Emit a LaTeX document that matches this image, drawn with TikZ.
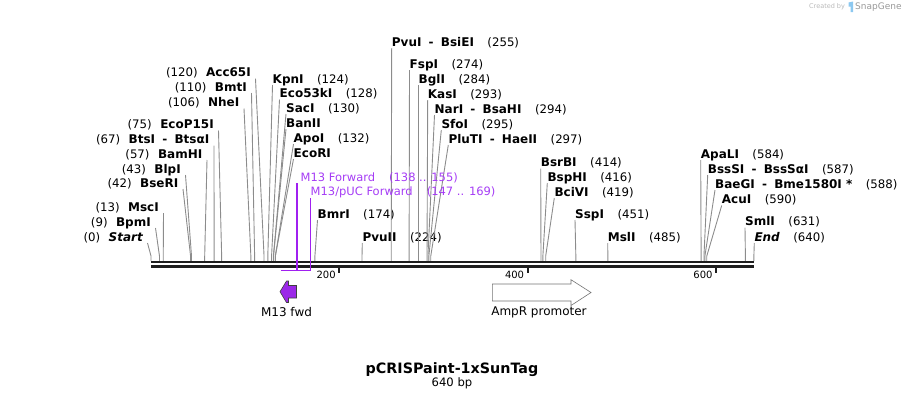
\documentclass[tikz,border=0pt]{standalone}
\usepackage{fontspec}
\setmainfont{DejaVu Sans}
\definecolor{linegray}{RGB}{140,140,140}
\definecolor{barc}{RGB}{30,30,30}
\definecolor{prim}{RGB}{160,32,240}
\definecolor{primtxt}{RGB}{165,60,245}
\definecolor{featfill}{RGB}{155,40,232}
\definecolor{wmgray}{RGB}{185,185,185}
\definecolor{wmblue}{RGB}{140,200,240}
\newcommand\EnzR[5]{%
  \node[elbl,anchor=base west] (#1) at (#3,{#4+4}) {#5};
  \coordinate (#1s) at ({151+0.942*#2},261);
  \draw[enzline] (#1s) -- ++(0,-5) -- ([yshift=-2pt]#1.base west);
}
\newcommand\EnzL[5]{%
  \node[elbl,anchor=base east] (#1) at (#3,{#4+4}) {#5};
  \coordinate (#1s) at ({151+0.942*#2},261);
  \draw[enzline] (#1s) -- ++(0,-5) -- ([xshift=4.5pt,yshift=-2pt]#1.base east);
}
\newcommand\EN[1]{{\fontsize{12}{13}\selectfont\bfseries #1}}
\newcommand\RS[1]{\EN{#1}\hspace{13.5pt}}
\newcommand\LS[1]{\hspace{8.5pt}\EN{#1}}
\newcommand\dsh{\hspace{7.2pt}-\hspace{7.2pt}}
\begin{document}
\begin{tikzpicture}[x=1pt,y=-1pt,
  elbl/.style={inner sep=0pt,font=\fontsize{11.75}{13}\selectfont},
  plbl/.style={inner sep=0pt,text=primtxt,font=\fontsize{11.5}{13}\selectfont},
  enzline/.style={draw=linegray,line width=0.9pt},
  barline/.style={draw=barc,line width=2.4pt},
  tickline/.style={draw=barc,line width=2pt},
  ticklbl/.style={inner sep=0pt,anchor=base east,font=\fontsize{10}{12}\selectfont},
  primline/.style={draw=prim,line width=1.2pt},
  featlbl/.style={inner sep=0pt,font=\fontsize{12}{14}\selectfont}]
\useasboundingbox (0,0) rectangle (906,400);
% ---- left labels
\EnzL{start}{0}{143}{237}{(0)\hspace{8.5pt}\EN{\itshape Start}}
\EnzL{bpmi}{9}{151}{222}{(9)\LS{BpmI}}
\EnzL{msci}{13}{159}{207}{(13)\LS{MscI}}
\EnzL{bseri}{42}{178.5}{183}{(42)\LS{BseRI}}
\EnzL{blpi}{43}{181}{169}{(43)\LS{BlpI}}
\EnzL{bamhi}{57}{202.5}{154}{(57)\LS{BamHI}}
\EnzL{btsi}{67}{209.5}{139.5}{(67)\LS{BtsI\dsh BtsαI}}
\EnzL{ecop}{75}{214}{124.5}{(75)\LS{EcoP15I}}
\EnzL{nhei}{106}{239.5}{102.5}{(106)\LS{NheI}}
\EnzL{bmti}{110}{247}{87}{(110)\LS{BmtI}}
\EnzL{acc}{120}{251}{72.7}{(120)\LS{Acc65I}}
% ---- right labels
\EnzR{kpni}{124}{272.5}{79}{\RS{KpnI}(124)}
\EnzR{eco53}{128}{279.5}{93.5}{\RS{Eco53kI}(128)}
\EnzR{saci}{130}{286}{108}{\RS{SacI}(130)}
\EnzR{banii}{130}{286}{123}{\EN{BanII}}
\EnzR{apoi}{132}{293.5}{138}{\RS{ApoI}(132)}
\EnzR{ecori}{132}{293.5}{153}{\EN{EcoRI}}
\EnzR{bmri}{174}{317.5}{214}{\RS{BmrI}(174)}
\EnzR{pvuii}{224}{362.3}{237}{\RS{PvuII}(224)}
\EnzR{pvui}{255}{391.7}{42}{\RS{PvuI\dsh BsiEI}(255)}
\EnzR{fspi}{274}{409.5}{64}{\RS{FspI}(274)}
\EnzR{bgli}{284}{418.5}{79}{\RS{BglI}(284)}
\EnzR{kasi}{293}{427.7}{94}{\RS{KasI}(293)}
\EnzR{nari}{294}{434.5}{109}{\RS{NarI\dsh BsaHI}(294)}
\EnzR{sfoi}{295}{441.3}{124}{\RS{SfoI}(295)}
\EnzR{pluti}{297}{448.3}{139}{\RS{PluTI\dsh HaeII}(297)}
\EnzR{bsrbi}{414}{540.7}{162.7}{\RS{BsrBI}(414)}
\EnzR{bsphi}{416}{547.3}{177}{\RS{BspHI}(416)}
\EnzR{bcivi}{419}{554.3}{192}{\RS{BciVI}(419)}
\EnzR{sspi}{451}{575}{214}{\RS{SspI}(451)}
\EnzR{msli}{485}{607.7}{237}{\RS{MslI}(485)}
\EnzR{apali}{584}{700.7}{154}{\RS{ApaLI}(584)}
\EnzR{bsssi}{587}{707.7}{169}{\RS{BssSI\dsh BssSαI}(587)}
\EnzR{baegi}{588}{715}{184}{\RS{BaeGI\dsh Bme1580I *}(588)}
\EnzR{acui}{590}{721.7}{199.5}{\RS{AcuI}(590)}
\EnzR{smli}{631}{745}{221.7}{\RS{SmlI}(631)}
\EnzR{endl}{640}{754.3}{237}{\EN{\itshape End}\hspace{13.5pt}(640)}
% ---- backbone
\coordinate (barL) at (151,262.2);
\coordinate (barR) at (754,262.2);
\draw[barline] (barL) -- (barR);
\draw[barline] ([yshift=-4.1pt]barL) -- ([yshift=-4.1pt]barR);
\foreach \t in {200,400,600}{
  \coordinate (tk\t) at ({151+0.942*\t},267.5);
  \draw[tickline] (tk\t) -- ++(0,5.5);
  \node[ticklbl] (tl\t) at ([xshift=-3.5pt,yshift=-10.5pt]tk\t) {\t};
}
% ---- primers
\coordinate (prA) at ({151+0.942*138},270.5);
\coordinate (m13fs) at ({151+0.942*155},270.5);
\coordinate (pucfs) at ({151+0.942*169},270.5);
\node[plbl,anchor=base west] (m13f) at (300.5,181) {M13 Forward\hspace{14pt}(138 .. 155)};
\node[plbl,anchor=base west] (pucf) at (310.5,195.5) {M13/pUC Forward\hspace{14pt}(147 .. 169)};
\coordinate (m13ft) at ([yshift=-2pt]m13f.base west);
\coordinate (pucft) at ([yshift=-2pt]pucf.base west);
\draw[primline] (prA) -- (pucfs);
\draw[primline] (m13fs) -- (m13fs |- m13ft);
\draw[primline] (pucfs) -- (pucfs |- pucft);
% ---- features
\draw[draw=black!75,fill=featfill,line width=0.6pt] (280,291.7) -- (286.5,281) -- (288.5,281) -- (288.5,285.5) -- (296.5,285.5) -- (296.5,298) -- (288.5,298) -- (288.5,302.5) -- (286.5,302.5) -- cycle;
\node[featlbl] (m13fwd) at (286.5,312.5) {M13 fwd};
\draw[draw=black!55,fill=white,line width=0.6pt] (492.3,284) -- (571,284) -- (571,279.7) -- (591,292.5) -- (571,305.5) -- (571,301) -- (492.3,301) -- cycle;
\node[featlbl] (ampr) at (539,312.5) {AmpR promoter};
% ---- title
\node[inner sep=0pt,font=\fontsize{14.3}{16}\selectfont\bfseries] (title) at (452,370) {pCRISPaint-1xSunTag};
\node[inner sep=0pt,font=\fontsize{11.6}{13}\selectfont] (size) at (452,383.5) {640 bp};
% ---- watermark
\node[inner sep=0pt,anchor=west,text=wmgray,font=\fontsize{6.5}{8}\selectfont] (wm1) at (809,7) {Created by};
\fill[wmblue] (848.5,2.5) -- (853,1.5) -- (853,12) -- (850.5,12) -- (850.5,6.5) -- (848.5,6.5) -- cycle;
\node[inner sep=0pt,anchor=west,text=black!40,font=\fontsize{9}{10}\selectfont] (wm2) at (855,7) {SnapGene};
\end{tikzpicture}
\end{document}
